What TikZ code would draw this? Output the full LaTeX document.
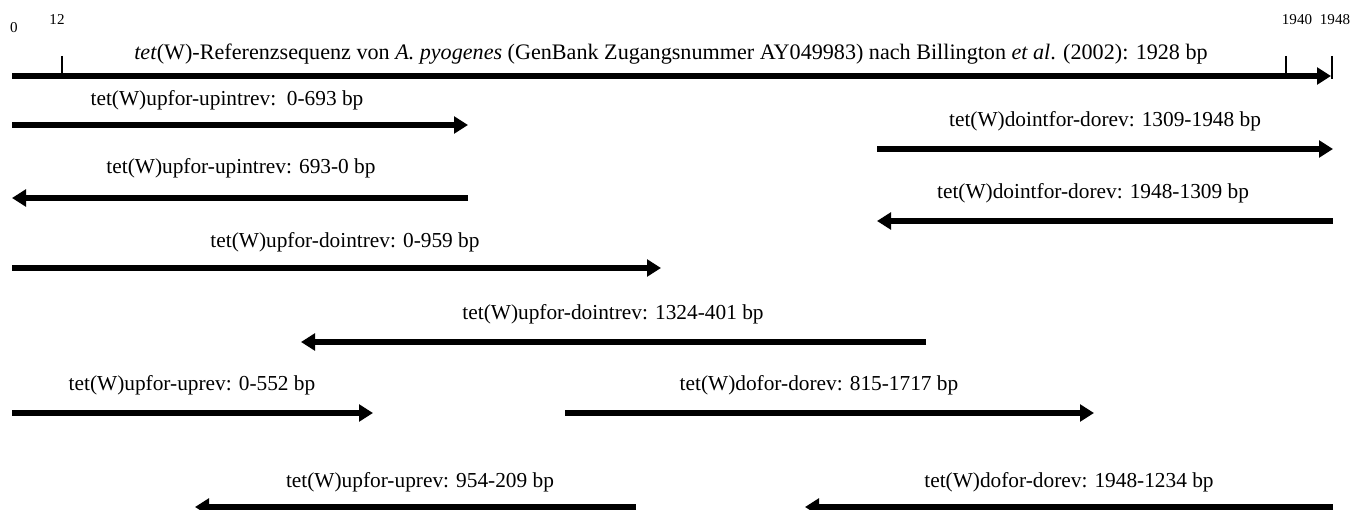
\documentclass[tikz,border=0pt]{standalone}
\usepackage{fontspec}
\setmainfont{Liberation Serif}
\usetikzlibrary{arrows.meta}

\begin{document}
\begin{tikzpicture}[x=0.75pt,y=-0.75pt,
		pfeil/.style={line width=4pt,-{Triangle[length=10.5pt,width=12.5pt]}},
		beschr/.style={inner sep=0pt,font=\fontsize{16}{19}\selectfont},
		zahl/.style={inner sep=0pt,font=\fontsize{11.3}{13}\selectfont},
		strich/.style={line width=1.3pt}]
		\useasboundingbox (0,0) rectangle (1357,510);

		% Referenzsequenz
		\node[zahl] (n0) at (14,28) {0};
		\node[zahl] (n12) at (57,20) {12};
		\node[zahl] (n1940) at (1297,20) {1940};
		\node[zahl] (n1948) at (1335,20) {1948};
		\node[beschr,font=\fontsize{16.6}{19}\selectfont] (ref) at (671,54) {\textit{tet}(W)-Referenzsequenz von \textit{A. pyogenes} (GenBank Zugangsnummer AY049983) nach Billington \textit{et al}. (2002): 1928 bp};
		\coordinate (r0) at (12,76);
		\coordinate (r1) at (1331,76);
		\coordinate (t12a) at (62,56);
		\coordinate (t12b) at (62,76);
		\coordinate (t40a) at (1286,56);
		\coordinate (t40b) at (1286,76);
		\coordinate (t48a) at (1332,56);
		\coordinate (t48b) at (1332,79);
		\draw[pfeil] (r0) -- (r1);
		\draw[strich] (t12a) -- (t12b);
		\draw[strich] (t40a) -- (t40b);
		\draw[strich] (t48a) -- (t48b);

		% Amplifikate
		\node[beschr] (l1) at (227,100) {tet(W)upfor-upintrev:\ \ 0-693 bp};
		\node[beschr] (l2) at (1105,121) {tet(W)dointfor-dorev: 1309-1948 bp};
		\node[beschr] (l3) at (241,168) {tet(W)upfor-upintrev: 693-0 bp};
		\node[beschr] (l4) at (1093,193) {tet(W)dointfor-dorev: 1948-1309 bp};
		\node[beschr] (l5) at (345,242) {tet(W)upfor-dointrev: 0-959 bp};
		\node[beschr] (l6) at (613,314) {tet(W)upfor-dointrev: 1324-401 bp};
		\node[beschr] (l7) at (192,385) {tet(W)upfor-uprev: 0-552 bp};
		\node[beschr] (l8) at (819,385) {tet(W)dofor-dorev: 815-1717 bp};
		\node[beschr] (l9) at (420,482) {tet(W)upfor-uprev: 954-209 bp};
		\node[beschr] (l10) at (1069,482) {tet(W)dofor-dorev: 1948-1234 bp};

		\coordinate (a1) at (12,125);   \coordinate (b1) at (468,125);
		\coordinate (a2) at (877,149);  \coordinate (b2) at (1333,149);
		\coordinate (a3) at (468,198);  \coordinate (b3) at (12,198);
		\coordinate (a4) at (1333,221); \coordinate (b4) at (877,221);
		\coordinate (a5) at (12,268);   \coordinate (b5) at (661,268);
		\coordinate (a6) at (926,342);  \coordinate (b6) at (301,342);
		\coordinate (a7) at (12,413);   \coordinate (b7) at (373,413);
		\coordinate (a8) at (565,413);  \coordinate (b8) at (1094,413);
		\coordinate (a9) at (636,507);  \coordinate (b9) at (195,507);
		\coordinate (a10) at (1333,507); \coordinate (b10) at (805,507);

		\draw[pfeil] (a1) -- (b1);
		\draw[pfeil] (a2) -- (b2);
		\draw[pfeil] (a3) -- (b3);
		\draw[pfeil] (a4) -- (b4);
		\draw[pfeil] (a5) -- (b5);
		\draw[pfeil] (a6) -- (b6);
		\draw[pfeil] (a7) -- (b7);
		\draw[pfeil] (a8) -- (b8);
		\draw[pfeil] (a9) -- (b9);
		\draw[pfeil] (a10) -- (b10);

		\end{tikzpicture}
\end{document}
